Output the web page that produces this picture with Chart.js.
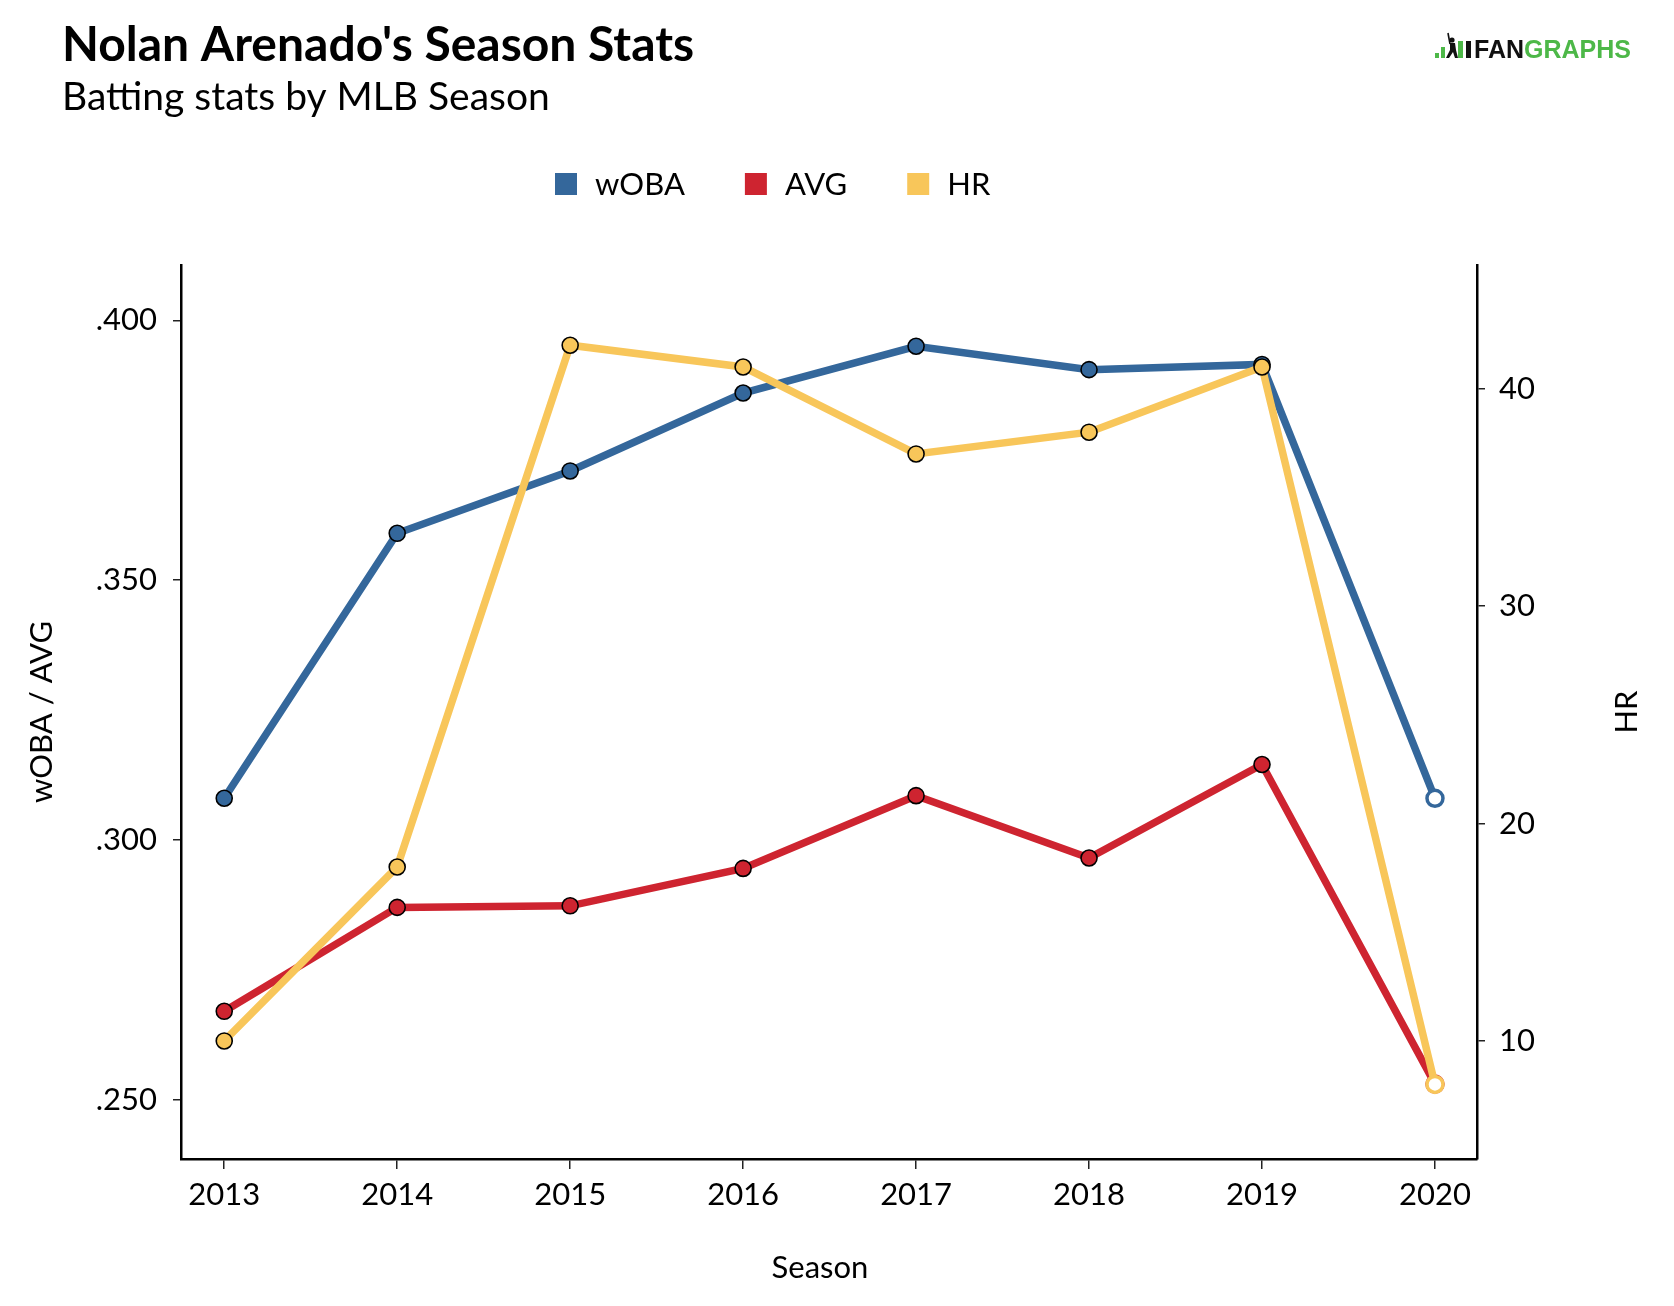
<!DOCTYPE html>
<html>
<head>
<meta charset="utf-8">
<script src="https://cdn.jsdelivr.net/npm/chart.js@4.4.1/dist/chart.umd.min.js"></script>
<style>
  html, body { margin: 0; padding: 0; background: #ffffff; overflow: hidden; }
  #wrap { position: relative; width: 1674px; height: 1306px; }
  canvas { display: block; }
</style>
</head>
<body>
<div id="wrap"><canvas id="c" width="1674" height="1306"></canvas></div>
<script>
// ---- data ----
const seasons = [2013, 2014, 2015, 2016, 2017, 2018, 2019, 2020];
const wOBA = [0.308, 0.359, 0.371, 0.386, 0.395, 0.3905, 0.3915, 0.308];
const AVG  = [0.267, 0.287, 0.2873, 0.2945, 0.3085, 0.2965, 0.3145, 0.253];
const HR   = [10, 18, 42, 41, 37, 38, 41, 8];
const leftTicks  = [0.250, 0.300, 0.350, 0.400];
const rightTicks = [10, 20, 30, 40];

const COLORS = { wOBA: '#34679B', AVG: '#CE2430', HR: '#F8C65A' };
const FONT = "Lato, 'Noto Sans', sans-serif";
const lastIdx = seasons.length - 1;

function makeDataset(name, values, axisId, order) {
  const c = COLORS[name];
  return {
    label: name,
    data: seasons.map((s, i) => ({ x: s, y: values[i] })),
    yAxisID: axisId,
    order: order,
    borderColor: c,
    backgroundColor: c,
    borderWidth: 7.5,
    tension: 0,
    pointRadius: 8,
    pointHoverRadius: 8,
    pointBackgroundColor: seasons.map((s, i) => i === lastIdx ? '#ffffff' : c),
    pointBorderColor: seasons.map((s, i) => i === lastIdx ? c : '#000000'),
    pointBorderWidth: seasons.map((s, i) => i === lastIdx ? 3.5 : 1.6),
    fill: false
  };
}

const decorations = {
  id: 'decorations',
  afterDraw(chart) {
    const ctx = chart.ctx;
    ctx.save();
    // Title & subtitle
    ctx.fillStyle = '#000';
    ctx.textAlign = 'left';
    ctx.textBaseline = 'alphabetic';
    ctx.font = "bold 48px " + FONT;
    ctx.fillText("Nolan Arenado's Season Stats", 62, 61);
    ctx.font = "39px " + FONT;
    ctx.fillText("Batting stats by MLB Season", 62, 110);

    // Legend (from datasets)
    ctx.font = "31px " + FONT;
    ctx.textBaseline = 'middle';
    let x = 555;
    const ly = 184;
    chart.data.datasets.forEach(ds => {
      ctx.fillStyle = ds.borderColor;
      ctx.fillRect(x, ly - 11, 22, 22);
      x += 22 + 18;
      ctx.fillStyle = '#000';
      ctx.fillText(ds.label, x, ly + 1);
      x += ctx.measureText(ds.label).width + 60;
    });

    // x-axis title
    ctx.textAlign = 'center';
    ctx.textBaseline = 'middle';
    ctx.fillStyle = '#000';
    ctx.fillText('Season', 820, 1268);

    // Right axis title (rotated, reading bottom-to-top)
    ctx.save();
    ctx.translate(1627, 712);
    ctx.rotate(-Math.PI / 2);
    ctx.textAlign = 'center';
    ctx.textBaseline = 'middle';
    ctx.font = "31px " + FONT;
    ctx.fillStyle = '#000';
    ctx.fillText('HR', 0, 0);
    ctx.restore();

    // FanGraphs logo
    const green = '#4DB848';
    ctx.fillStyle = green;
    ctx.fillRect(1435, 53, 4, 5);
    ctx.fillRect(1441, 47, 4, 11);
    ctx.fillRect(1458, 41, 5, 17);
    ctx.fillStyle = '#111';
    ctx.fillRect(1466, 41, 5, 17);
    // batter silhouette
    ctx.beginPath();
    ctx.arc(1452, 40, 2.6, 0, Math.PI * 2);
    ctx.fill();
    ctx.lineWidth = 1.6;
    ctx.strokeStyle = '#111';
    ctx.beginPath();
    ctx.moveTo(1448, 33); ctx.lineTo(1450, 44);
    ctx.stroke();
    ctx.beginPath();
    ctx.moveTo(1450, 43); ctx.lineTo(1455, 43); ctx.lineTo(1456, 50);
    ctx.lineTo(1458, 58); ctx.lineTo(1455, 58); ctx.lineTo(1453, 52);
    ctx.lineTo(1449, 58); ctx.lineTo(1446, 58); ctx.lineTo(1450, 50);
    ctx.closePath();
    ctx.fill();
    ctx.textBaseline = 'alphabetic';
    ctx.textAlign = 'left';
    ctx.font = "bold 25px 'Liberation Sans', Arial, sans-serif";
    ctx.fillStyle = '#111';
    ctx.fillText('FAN', 1474, 58);
    const wFan = ctx.measureText('FAN').width;
    ctx.fillStyle = green;
    ctx.fillText('GRAPHS', 1474 + wFan, 58);
    ctx.restore();
  }
};

function build() {
  Chart.defaults.font.family = FONT;
  Chart.defaults.color = '#000';
  const tickFont = { family: FONT, size: 31 };
  const ctx = document.getElementById('c').getContext('2d');
  new Chart(ctx, {
    type: 'line',
    data: {
      datasets: [
        makeDataset('wOBA', wOBA, 'y', 3),
        makeDataset('AVG', AVG, 'y', 2),
        makeDataset('HR', HR, 'y1', 1)
      ]
    },
    options: {
      responsive: false,
      animation: false,
      devicePixelRatio: 1,
      layout: { padding: { top: 265, left: 0, right: 0, bottom: 0 } },
      plugins: {
        legend: { display: false },
        title: { display: false },
        tooltip: { enabled: false }
      },
      scales: {
        x: {
          type: 'linear',
          position: 'bottom',
          min: 2012.75,
          max: 2020.243,
          afterBuildTicks: s => { s.ticks = seasons.map(v => ({ value: v })); },
          afterFit: s => { s.height = 147; },
          ticks: {
            callback: v => String(v),
            font: tickFont, color: '#000', padding: 7,
            maxRotation: 0, autoSkip: false
          },
          grid: { drawOnChartArea: false, drawTicks: true, tickLength: 10, color: '#222', lineWidth: 1.5 },
          border: { display: true, color: '#000', width: 2.5 },
          title: { display: false }
        },
        y: {
          type: 'linear',
          position: 'left',
          min: 0.23857,
          max: 0.41064,
          afterBuildTicks: s => { s.ticks = leftTicks.map(v => ({ value: v })); },
          afterFit: s => { s.width = 181; },
          ticks: {
            callback: v => v.toFixed(3).replace(/^0/, ''),
            font: tickFont, color: '#000', padding: 16
          },
          grid: { drawOnChartArea: false, drawTicks: true, tickLength: 8, color: '#222', lineWidth: 1.5 },
          border: { display: true, color: '#000', width: 2.5 },
          title: { display: true, text: 'wOBA / AVG', font: { family: FONT, size: 31 }, color: '#000', padding: { top: 23, bottom: 0 } }
        },
        y1: {
          type: 'linear',
          position: 'right',
          min: 4.57,
          max: 45.69,
          afterBuildTicks: s => { s.ticks = rightTicks.map(v => ({ value: v })); },
          afterFit: s => { s.width = 197; },
          ticks: {
            callback: v => String(v),
            font: tickFont, color: '#000', padding: 14
          },
          grid: { drawOnChartArea: false, drawTicks: true, tickLength: 8, color: '#222', lineWidth: 1.5 },
          border: { display: true, color: '#000', width: 2.5 },
          title: { display: false }
        }
      }
    },
    plugins: [decorations]
  });
}

if (document.fonts && document.fonts.load) {
  Promise.all([
    document.fonts.load("31px Lato"),
    document.fonts.load("bold 48px Lato"),
    document.fonts.load("bold 25px 'Liberation Sans'")
  ]).then(build, build);
} else {
  build();
}
</script>
</body>
</html>
